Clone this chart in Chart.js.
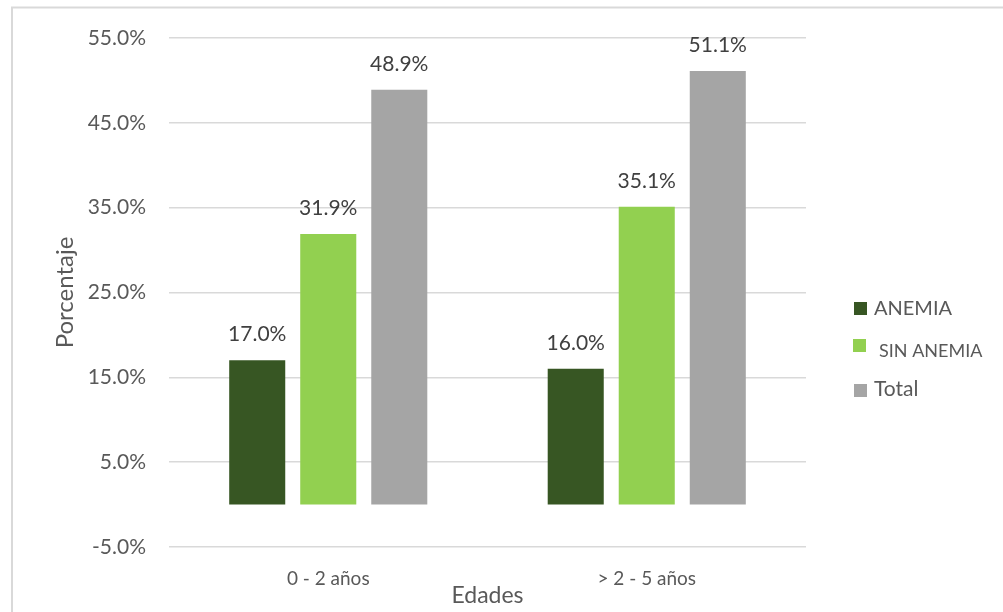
<!DOCTYPE html>
<html>
<head>
<meta charset="utf-8">
<script src="https://cdn.jsdelivr.net/npm/chart.js@4/dist/chart.umd.min.js"></script>
<style>
  html, body { margin: 0; padding: 0; background: #fff; }
  canvas { display: block; }
</style>
</head>
<body>
<canvas id="chart" width="1003" height="612"></canvas>
<script>
const categories = ['0 - 2 años', '> 2 - 5 años'];
const anemia = [17.0, 16.0];
const sinAnemia = [31.9, 35.1];
const total = [48.9, 51.1];
const seriesNames = ['ANEMIA', 'SIN ANEMIA', 'Total'];
const seriesColors = ['#375623', '#92d050', '#a5a5a5'];
const yTicks = [-5, 5, 15, 25, 35, 45, 55];

const FONT = 'Lato, "Open Sans", sans-serif';

// thin frame along the top and left edge
const framePlugin = {
  id: 'frame',
  beforeDraw(chart) {
    const ctx = chart.ctx;
    ctx.save();
    ctx.strokeStyle = '#d9d9d9';
    ctx.lineWidth = 2;
    ctx.beginPath();
    ctx.moveTo(12, 612);
    ctx.lineTo(12, 7.5);
    ctx.lineTo(1003, 7.5);
    ctx.stroke();
    ctx.restore();
  }
};

// value above every bar
const valueLabels = {
  id: 'valueLabels',
  afterDatasetsDraw(chart) {
    const ctx = chart.ctx;
    ctx.save();
    ctx.font = '21px ' + FONT;
    ctx.fillStyle = '#404040';
    ctx.textAlign = 'center';
    ctx.textBaseline = 'middle';
    chart.data.datasets.forEach((ds, i) => {
      chart.getDatasetMeta(i).data.forEach((bar, j) => {
        ctx.fillText(ds.data[j].toFixed(1) + '%', bar.x, bar.y - 26);
      });
    });
    ctx.restore();
  }
};

// legend on the right, drawn by hand
const sideLegend = {
  id: 'sideLegend',
  afterDraw(chart) {
    const ctx = chart.ctx;
    const rows = [
      { box: [854, 302], text: [874, 309], size: 20 },
      { box: [853, 339], text: [879, 351], size: 18 },
      { box: [854, 384], text: [874, 389], size: 21 }
    ];
    ctx.save();
    ctx.textBaseline = 'middle';
    rows.forEach((r, i) => {
      ctx.fillStyle = seriesColors[i];
      ctx.fillRect(r.box[0], r.box[1], 13, 13);
      ctx.fillStyle = '#595959';
      ctx.font = r.size + 'px ' + FONT;
      ctx.fillText(seriesNames[i], r.text[0], r.text[1]);
    });
    ctx.restore();
  }
};

const data = {
  labels: categories,
  datasets: [anemia, sinAnemia, total].map((values, i) => ({
    label: seriesNames[i],
    data: values,
    backgroundColor: seriesColors[i],
    borderWidth: 0,
    categoryPercentage: 0.669,
    barPercentage: 0.789
  }))
};

new Chart(document.getElementById('chart'), {
  type: 'bar',
  data: data,
  plugins: [framePlugin, valueLabels, sideLegend],
  options: {
    responsive: false,
    animation: false,
    layout: { padding: { left: 51, right: 197, top: 38, bottom: 0 } },
    plugins: {
      legend: { display: false },
      tooltip: { enabled: false }
    },
    scales: {
      x: {
        grid: { display: false, drawTicks: false },
        border: { display: false },
        ticks: { color: '#595959', font: { family: FONT, size: 19 }, padding: 20 },
        title: {
          display: true, text: 'Edades', color: '#595959',
          font: { family: FONT, size: 23 }, padding: { top: 0, bottom: 3 }
        },
        afterFit(scale) { scale.height = 65; }
      },
      y: {
        min: -5,
        max: 55,
        afterBuildTicks(scale) { scale.ticks = yTicks.map(v => ({ value: v })); },
        grid: { color: '#d9d9d9', lineWidth: 1.5, drawTicks: false },
        border: { display: false },
        ticks: {
          color: '#595959', font: { family: FONT, size: 21 }, padding: 23,
          callback: v => v.toFixed(1) + '%'
        },
        title: {
          display: true, text: 'Porcentaje', color: '#595959',
          font: { family: FONT, size: 24 }, padding: { top: 0, bottom: 0 }
        },
        afterFit(scale) { scale.width = 118; }
      }
    }
  }
});
</script>
</body>
</html>
